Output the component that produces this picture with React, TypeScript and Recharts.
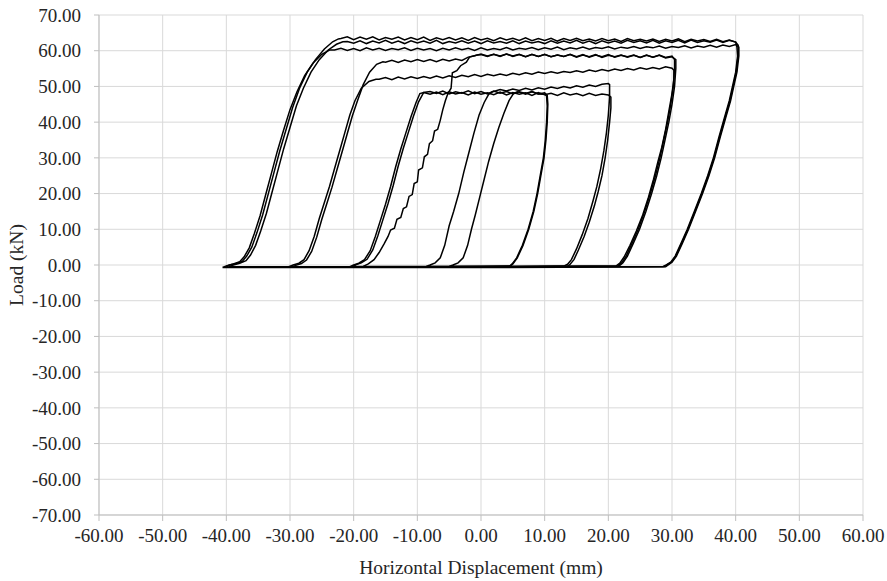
import React from 'react';
import { LineChart, Line, XAxis, YAxis, CartesianGrid } from 'recharts';

// axis ticks
const xTicks = [-60, -50, -40, -30, -20, -10, 0, 10, 20, 30, 40, 50, 60];
const yTicks = [-70, -60, -50, -40, -30, -20, -10, 0, 10, 20, 30, 40, 50, 60, 70];

// ---- ±40 mm cycles ----
const riseA1 = [[-40.2, -0.6], [-39.5, 0], [-38.5, 0.4], [-37.5, 1.0], [-36.8, 2.5], [-36.0, 5], [-35.2, 9], [-34.3, 14], [-33.4, 20], [-32.5, 26], [-31.6, 32], [-30.6, 38], [-29.6, 44], [-28.5, 49.5], [-27.3, 54], [-26.0, 57.5], [-24.6, 60.5], [-23.3, 62.5], [-22.4, 63.3]];
const plateauA1 = [
  63.4, 63.9, 63.1, 63.8, 63.2, 63.9, 63.0, 63.7, 63.2, 63.8,
  63.0, 63.7, 63.1, 63.8, 62.9, 63.6, 63.1, 63.7, 63.0, 63.6,
  62.9, 63.7, 63.0, 63.5, 62.8, 63.6, 63.0, 63.5, 62.9, 63.6,
  62.8, 63.4, 62.9, 63.5, 62.7, 63.4, 62.9, 63.5, 62.8, 63.3,
  62.7, 63.4, 62.8, 63.3, 62.6, 63.4, 62.8, 63.2, 62.7, 63.3,
  62.6, 63.2, 62.7, 63.3, 62.5, 63.2, 62.7, 63.1, 62.6, 63.2,
  62.5, 63.0, 62.4,
];
const unloadA1 = [[40.4, 61.5], [40.4, 59], [40.1, 54], [39.6, 50], [39.1, 46], [38.3, 41], [37.5, 36], [36.6, 30], [35.7, 25], [34.7, 20], [33.6, 15], [32.5, 10], [31.5, 6], [30.6, 2.5], [29.9, 0.8], [29.2, 0], [28.8, -0.4], [0, -0.6], [-40.2, -0.6]];

const riseA2 = [[-39.6, -0.5], [-38.9, 0], [-37.9, 0.5], [-36.9, 1.2], [-36.2, 2.8], [-35.4, 5.5], [-34.6, 9.5], [-33.7, 14.5], [-32.8, 20.5], [-31.9, 26.5], [-31.0, 32.5], [-30.0, 38.5], [-29.0, 44.5], [-27.9, 49.5], [-26.7, 54], [-25.4, 57.5], [-24.0, 60.2], [-22.7, 61.8], [-21.7, 62.5]];
const plateauA2 = [
  62.6, 62.1, 62.8, 62.0, 62.7, 62.2, 62.9, 62.1, 62.7, 62.0,
  62.8, 62.2, 62.7, 62.1, 62.9, 62.0, 62.6, 62.2, 62.8, 62.1,
  62.7, 62.0, 62.8, 62.2, 62.6, 62.1, 62.8, 62.0, 62.7, 62.2,
  62.6, 62.0, 62.8, 62.1, 62.7, 62.2, 62.9, 62.1, 62.7, 62.0,
  62.8, 62.2, 62.7, 62.1, 62.9, 62.3, 62.8, 62.2, 62.9, 62.1,
  62.8, 62.3, 62.9, 62.2, 63.0, 62.3, 62.8, 62.4, 63.0, 62.3,
  62.9, 62.4,
];
const unloadA2 = [[40.2, 61], [40.3, 58.5], [40.0, 54], [39.5, 50], [39.0, 46], [38.2, 41], [37.4, 36], [36.5, 30], [35.6, 25], [34.6, 20], [33.5, 15], [32.4, 10], [31.4, 6], [30.5, 2.5], [29.8, 0.8], [29.1, 0], [28.6, -0.4], [0, -0.5], [-39.6, -0.5]];

const riseA3 = [[-40.6, -0.7], [-39.9, -0.2], [-38.9, 0.3], [-37.9, 0.9], [-37.2, 2.3], [-36.4, 4.8], [-35.6, 8.8], [-34.7, 13.8], [-33.8, 19.8], [-32.9, 25.8], [-32.0, 31.8], [-31.0, 37.8], [-30.0, 43.5], [-28.9, 48.5], [-27.7, 53], [-26.4, 56.5], [-25.0, 59], [-23.8, 60.2]];
const plateauA3 = [
  60.2, 60.7, 60.1, 60.6, 60.0, 60.8, 60.2, 60.7, 60.1, 60.6,
  60.3, 60.8, 60.1, 60.7, 60.2, 60.6, 60.0, 60.7, 60.2, 60.8,
  60.3, 60.7, 60.1, 60.8, 60.2, 60.6, 60.3, 60.9, 60.2, 60.7,
  60.4, 60.9, 60.3, 60.8, 60.4, 61.0, 60.3, 60.8, 60.5, 61.0,
  60.4, 60.9, 60.6, 61.1, 60.5, 61.0, 60.7, 61.2, 60.6, 61.1,
  60.8, 61.3, 60.7, 61.2, 60.9, 61.4, 60.8, 61.3, 61.0, 61.5,
  61.0, 61.6, 61.2, 61.7,
];
const unloadA3 = [[40.5, 61], [40.5, 58.5], [40.2, 54], [39.7, 50], [39.2, 46], [38.4, 41], [37.6, 36], [36.7, 30], [35.8, 25], [34.8, 20], [33.7, 15], [32.6, 10], [31.6, 6], [30.7, 2.5], [30.0, 0.8], [29.4, 0], [29.0, -0.5], [0, -0.7], [-40.6, -0.7]];

// ---- ±30 mm cycles ----
const riseB1 = [[-30.2, -0.5], [-29.5, 0], [-28.6, 0.5], [-27.8, 1.5], [-27.0, 4], [-26.2, 8], [-25.4, 13], [-24.6, 17.5], [-23.8, 22], [-23.0, 27], [-22.2, 32], [-21.4, 37], [-20.6, 42], [-19.8, 46], [-18.8, 49.5], [-17.6, 51.4], [-16.5, 52]];
const plateauB1 = [
  52.0, 52.5, 51.9, 52.6, 52.1, 52.7, 52.2, 52.8, 52.3, 52.9,
  52.4, 53.0, 52.5, 53.1, 52.7, 53.3, 52.8, 53.4, 53.0, 53.5,
  53.1, 53.7, 53.3, 53.8, 53.4, 54.0, 53.6, 54.1, 53.7, 54.2,
  53.9, 54.4, 54.0, 54.6, 54.2, 54.7, 54.3, 54.9, 54.5, 55.0,
  54.6, 55.2, 54.8, 55.3, 54.9, 55.5, 55.1,
];
const unloadB1 = [[30.3, 54.5], [30.3, 52], [30.0, 48], [29.5, 43], [29.0, 38], [28.4, 33], [27.8, 29], [27.1, 24], [26.3, 19], [25.4, 14], [24.4, 9.5], [23.4, 5.5], [22.5, 2.3], [21.8, 0.5], [21.2, -0.3], [0, -0.5], [-30.2, -0.5]];

const riseB2 = [[-29.8, -0.6], [-29.1, -0.1], [-28.2, 0.4], [-27.4, 1.4], [-26.6, 3.8], [-25.8, 7.8], [-25.0, 12.8], [-24.2, 17.3], [-23.4, 21.8], [-22.6, 26.8], [-21.8, 31.8], [-21.0, 36.8], [-20.2, 41.8], [-19.4, 46], [-18.5, 50.5], [-17.5, 54], [-16.4, 56.2], [-15.4, 56.9]];
const plateauB2 = [
  56.8, 57.3, 56.7, 57.4, 56.9, 57.5, 57.0, 57.5, 56.9, 57.6,
  57.1, 57.7, 57.3, 58.2, 58.6, 59.1, 58.5, 59.0, 58.4, 59.1,
  58.5, 59.0, 58.3, 58.9, 58.4, 59.0, 58.3, 58.8, 58.4, 58.9,
  58.2, 58.8, 58.3, 58.9, 58.1, 58.7, 58.3, 58.8, 58.2, 58.7,
  58.1, 58.8, 58.2, 58.7, 58.0, 58.3,
];
const unloadB2 = [[30.6, 57.5], [30.6, 55], [30.4, 50], [30.0, 45], [29.5, 40], [28.9, 35], [28.3, 30], [27.6, 25], [26.8, 20], [25.9, 15], [24.9, 10], [23.9, 6], [23.0, 2.5], [22.3, 0.6], [21.7, -0.3], [0, -0.6], [-29.8, -0.6]];

// jagged reload from -18 mm
const riseJ = [[-18.5, -0.4], [-17.7, 0.3], [-16.8, 1.5], [-16.0, 3.5], [-15.2, 6], [-14.6, 8], [-14.2, 9.8], [-13.6, 10.3], [-13.2, 12.8], [-12.6, 13.3], [-12.2, 15.8], [-11.7, 16.3], [-11.3, 19.2], [-10.8, 19.7], [-10.5, 22.8], [-10.0, 23.3], [-9.8, 26.6], [-9.2, 27.2], [-8.9, 30.3], [-8.4, 31], [-8.1, 34], [-7.6, 34.8], [-7.3, 37.5], [-6.8, 38], [-6.4, 40.5], [-6.0, 43.5], [-5.6, 46], [-5.2, 48], [-4.7, 49.5], [-4.5, 53.8], [-3.8, 54.4], [-3.2, 55.8], [-2.3, 56.8], [-1.8, 58.2], [-0.6, 58.8]];
const plateauJ = [
  58.9, 58.4, 59.0, 58.5, 59.1, 58.4, 58.9, 58.3, 59.0, 58.4,
  58.9, 58.3, 58.8, 58.4, 59.0, 58.3, 58.9, 58.2, 58.8, 58.3,
  58.9, 58.2, 58.7, 58.3, 58.8, 58.1, 58.7, 58.2, 58.8, 58.1,
  58.5,
];
const unloadJ = [[30.4, 57.5], [30.4, 55], [30.2, 50], [29.8, 45], [29.3, 40], [28.7, 35], [28.1, 30], [27.4, 25], [26.6, 20], [25.7, 15], [24.7, 10], [23.7, 6], [22.8, 2.5], [22.1, 0.6], [21.5, -0.3], [0, -0.5], [-18.5, -0.4]];

// ---- ±20 mm cycles ----
const riseC1 = [[-20.6, -0.5], [-20.0, 0], [-19.2, 0.5], [-18.3, 1.5], [-17.4, 4], [-16.6, 8], [-15.8, 12.5], [-15.0, 17], [-14.2, 22], [-13.4, 27.5], [-12.6, 32.5], [-11.8, 37], [-11.0, 41.5], [-10.2, 45.5], [-9.6, 48]];
const plateauC1 = [
  48.3, 47.8, 48.4, 47.7, 48.5, 47.9, 48.3, 47.6, 48.4, 47.8,
  48.2, 47.7, 48.4, 47.6, 48.3, 47.8, 48.2, 47.5, 48.3, 47.7,
  48.1, 47.5, 48.2, 47.6, 48.0, 47.4, 48.1, 47.5, 47.9, 47.6,
];
const unloadC1 = [[20.4, 47], [20.4, 44], [20.2, 40], [19.9, 35], [19.5, 30], [19.0, 25], [18.4, 20.5], [17.8, 16.5], [17.0, 12], [16.2, 8], [15.3, 4.2], [14.6, 1.5], [14.0, 0.2], [13.6, -0.4], [0, -0.5], [-20.6, -0.5]];

const riseD1 = [[-8.6, -0.4], [-8.0, 0], [-7.2, 0.6], [-6.4, 2], [-5.7, 5.5], [-5.0, 11], [-4.3, 15], [-3.5, 20], [-2.7, 26], [-1.9, 31.5], [-1.1, 37], [-0.3, 42], [0.5, 45.5], [1.2, 47.8], [1.8, 48.5]];
const plateauD1 = [
  48.6, 49.1, 48.7, 49.3, 48.9, 49.5, 49.0, 49.6, 49.2, 49.8,
  49.4, 50.0, 49.6, 50.2, 49.8, 50.4, 50.0, 50.6, 50.8,
];
const unloadD1 = [[20.2, 50.5], [20.2, 47], [20.0, 42], [19.7, 37], [19.3, 32], [18.8, 27], [18.2, 22], [17.6, 18], [16.8, 13], [15.9, 8.5], [15.0, 4.5], [14.2, 1.5], [13.6, 0.2], [13.0, -0.3], [0, -0.4], [-8.6, -0.4]];

// ---- ±10 mm cycles ----
const riseC3 = [[-20.2, -0.4], [-19.6, 0.1], [-18.8, 0.6], [-17.9, 1.6], [-17.0, 4.2], [-16.2, 8.2], [-15.4, 12.7], [-14.6, 17.2], [-13.8, 22.2], [-13.0, 27.7], [-12.2, 32.7], [-11.4, 37.2], [-10.6, 41.7], [-9.8, 45.7], [-9.0, 48.3]];
const plateauC3 = [
  48.6, 48.0, 48.7, 47.9, 48.5, 48.1, 48.8, 48.0, 48.6, 47.9,
  48.7, 48.1, 48.6, 47.9, 48.5, 48.0, 48.6, 47.9, 48.2,
];
const unloadC3 = [[10.4, 47.5], [10.5, 45], [10.4, 40], [10.2, 35], [9.9, 30], [9.4, 25], [8.9, 20], [8.3, 15], [7.5, 10], [6.6, 5.5], [5.7, 2], [5.0, 0.3], [4.6, -0.3], [0, -0.4], [-20.2, -0.4]];

const riseD2 = [[-5.0, -0.4], [-4.4, 0], [-3.6, 0.6], [-2.8, 2], [-2.1, 5.5], [-1.5, 10], [-0.9, 14], [-0.2, 19], [0.5, 24], [1.2, 29], [2.0, 34], [2.8, 38.5], [3.6, 42.5], [4.4, 46], [5.1, 48], [5.7, 48.5]];
const plateauD2 = [48.4, 47.8, 48.5, 47.9, 47.8];
const unloadD2 = [[10.3, 47.3], [10.4, 44.5], [10.3, 40], [10.1, 35], [9.8, 30], [9.3, 25], [8.8, 20], [8.2, 15], [7.4, 10], [6.5, 5.5], [5.6, 2], [4.9, 0.3], [4.5, -0.3], [-5.0, -0.4]];

type Pair = number[];

// plateau loads are sampled every 1 mm starting at plateauStart
function buildLoop(rise: Pair[], plateauStart: number, plateau: number[], unload: Pair[]) {
  return [
    ...rise.map(([x, y]) => ({ x, y })),
    ...plateau.map((y, i) => ({ x: plateauStart + i, y })),
    ...unload.map(([x, y]) => ({ x, y })),
  ];
}

const loops = [
  buildLoop(riseA3, -23, plateauA3, unloadA3),
  buildLoop(riseA2, -21, plateauA2, unloadA2),
  buildLoop(riseA1, -22, plateauA1, unloadA1),
  buildLoop(riseB1, -16, plateauB1, unloadB1),
  buildLoop(riseB2, -15, plateauB2, unloadB2),
  buildLoop(riseJ, 0, plateauJ, unloadJ),
  buildLoop(riseC1, -9, plateauC1, unloadC1),
  buildLoop(riseD1, 2, plateauD1, unloadD1),
  buildLoop(riseC3, -8, plateauC3, unloadC3),
  buildLoop(riseD2, 6, plateauD2, unloadD2),
];

const FONT = "'Liberation Serif', 'Times New Roman', serif";
const TEXT = '#262626';
const fmt = (v: number) => v.toFixed(2);

const YTitle = (props: any) => {
  const vb = props.viewBox || { x: 0, y: 15, width: 99, height: 500 };
  const cx = vb.x + 16;
  const cy = vb.y + vb.height / 2;
  return (
    <text
      x={cx}
      y={cy}
      transform={`rotate(-90, ${cx}, ${cy})`}
      textAnchor="middle"
      dominantBaseline="central"
      fill={TEXT}
      fontSize={19.5}
      fontFamily={FONT}
    >
      Load (kN)
    </text>
  );
};

export default function App() {
  return (
    <div style={{ width: 887, height: 581, background: '#fff' }}>
      <style>{'body{margin:0}'}</style>
      <LineChart width={887} height={581} margin={{ top: 15, right: 24, bottom: 0, left: 0 }}>
        <CartesianGrid stroke="#d9d9d9" strokeWidth={1} />
        <XAxis
          type="number"
          dataKey="x"
          domain={[-60, 60]}
          ticks={xTicks}
          interval={0}
          tickFormatter={fmt}
          height={66}
          tickSize={6}
          tickMargin={8}
          axisLine={{ stroke: '#bfbfbf' }}
          tickLine={{ stroke: '#bfbfbf' }}
          tick={{ fill: TEXT, fontSize: 19, fontFamily: FONT }}
          label={{
            value: 'Horizontal Displacement (mm)',
            position: 'insideBottom',
            offset: 7,
            fill: TEXT,
            fontSize: 19.5,
            fontFamily: FONT,
          }}
        />
        <YAxis
          type="number"
          domain={[-70, 70]}
          ticks={yTicks}
          interval={0}
          tickFormatter={fmt}
          width={99}
          tickSize={5}
          tickMargin={13}
          axisLine={{ stroke: '#bfbfbf' }}
          tickLine={{ stroke: '#bfbfbf' }}
          tick={{ fill: TEXT, fontSize: 19, fontFamily: FONT }}
          label={{ content: YTitle }}
        />
        {loops.map((loop, i) => (
          <Line
            key={i}
            data={loop}
            dataKey="y"
            type="linear"
            stroke="#000"
            strokeWidth={1.5}
            dot={false}
            activeDot={false}
            isAnimationActive={false}
          />
        ))}
      </LineChart>
    </div>
  );
}
